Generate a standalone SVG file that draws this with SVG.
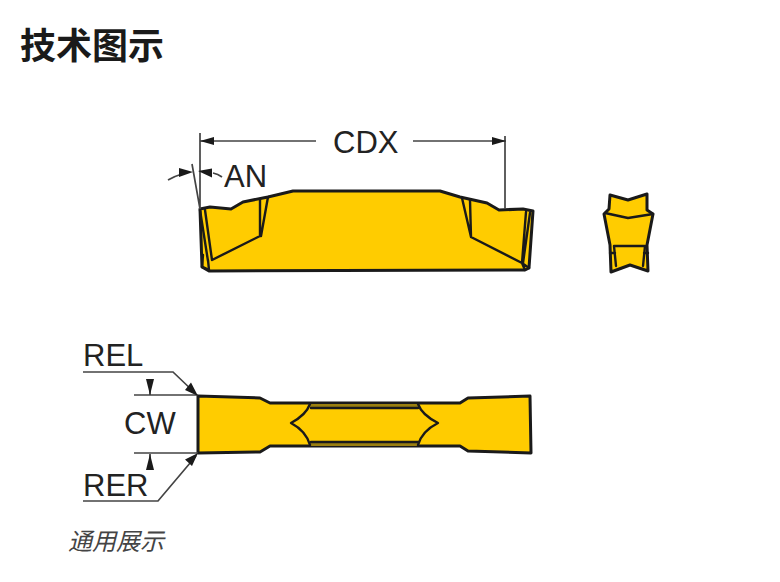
<svg xmlns="http://www.w3.org/2000/svg" width="780" height="582" viewBox="0 0 780 582">
<style>
.b{fill:#fc0;stroke:#1a1a1a;stroke-width:3;stroke-linejoin:round}
.i{fill:none;stroke:#1a1a1a;stroke-width:2.400;stroke-linejoin:round;stroke-linecap:round}
.d{fill:none;stroke:#444;stroke-width:1.700}
.h{fill:#1a1a1a}
.l{font-family:"Liberation Sans",Arial,sans-serif;font-size:31px;fill:#222}
</style>
<rect width="780" height="582" fill="#fff"/>
<text x="20" y="59" font-family="'Noto Sans CJK SC',sans-serif" font-size="36" font-weight="700" fill="#1a1a1a">技术图示</text>
<g id="top-view">
<path class="b" d="M200 209L210 207L231 209L243 202L268 197L293 191L440 191L460 197L487 203L499 210L523 209L533 211L529 268L525 270L209 271L202 267Z"/>
<path class="i" d="M200 210L208 261M205 210L212 260L260 236L260 199M268 197L261 236M203 255L202 267M208 260L209 270L203 267M462 198L471 237L522 263M470 200L471 237M526 212L522 263M530 213L523 263M522 263L525 270M522 263L529 268"/>
</g>
<g id="side-view">
<path class="b" d="M610 195L628 200L647 194L647 210L653 214L647 245L648 271L630 265L611 272L610 245L604 214L609 209Z"/>
<path class="i" d="M605 213L628 218L653 214M610 253L615 253M614 246L645 246M614 246L616 266M645 246L643 266M648 253L644 253"/>
</g>
<g id="plan-view">
<path class="b" d="M198 396L260 398L270 403L460 403L468 398L530 396L531 453L468 451L460 446L270 446L260 452L198 453Z"/>
<path d="M310 404H418V408H310ZM310 442H418V446H310Z" fill="#9a7f10" stroke="none"/>
<path class="i" d="M310 404Q306 415 291 423Q306 431 310 445M418 404Q422 415 438 423Q422 431 418 445M311 408H418M311 442H418"/>
</g>
<g id="connectors">
<path class="d" d="M200 133V209M505 136V209M200 141H316M413 141H506M192 164L200 209M168 180Q175 176 182 174M213 173Q218 174 222 177M83 372H173L195 393M134 395H198M134 453H198M83 501H158L196 456M150 379V395M150 454V470"/>
<path class="h" d="M200 141L214 137V145ZM506 141L492 137V145ZM193 172L179 168V177ZM198 171L212 168.500V177.500ZM198 396L185 390L191 382.500ZM198 453L192 466L185 459.500ZM150 395L146 379H154ZM150 454L146 470H154Z"/>
</g>
<g id="labels">
<text class="l" x="333" y="153">CDX</text>
<text class="l" x="224" y="187">AN</text>
<text class="l" x="83" y="366">REL</text>
<text class="l" x="124" y="434">CW</text>
<text class="l" x="83" y="496">RER</text>
</g>
<text x="68" y="550" font-family="'Noto Sans CJK SC',sans-serif" font-size="24" font-style="italic" fill="#444">通用展示</text>
</svg>
